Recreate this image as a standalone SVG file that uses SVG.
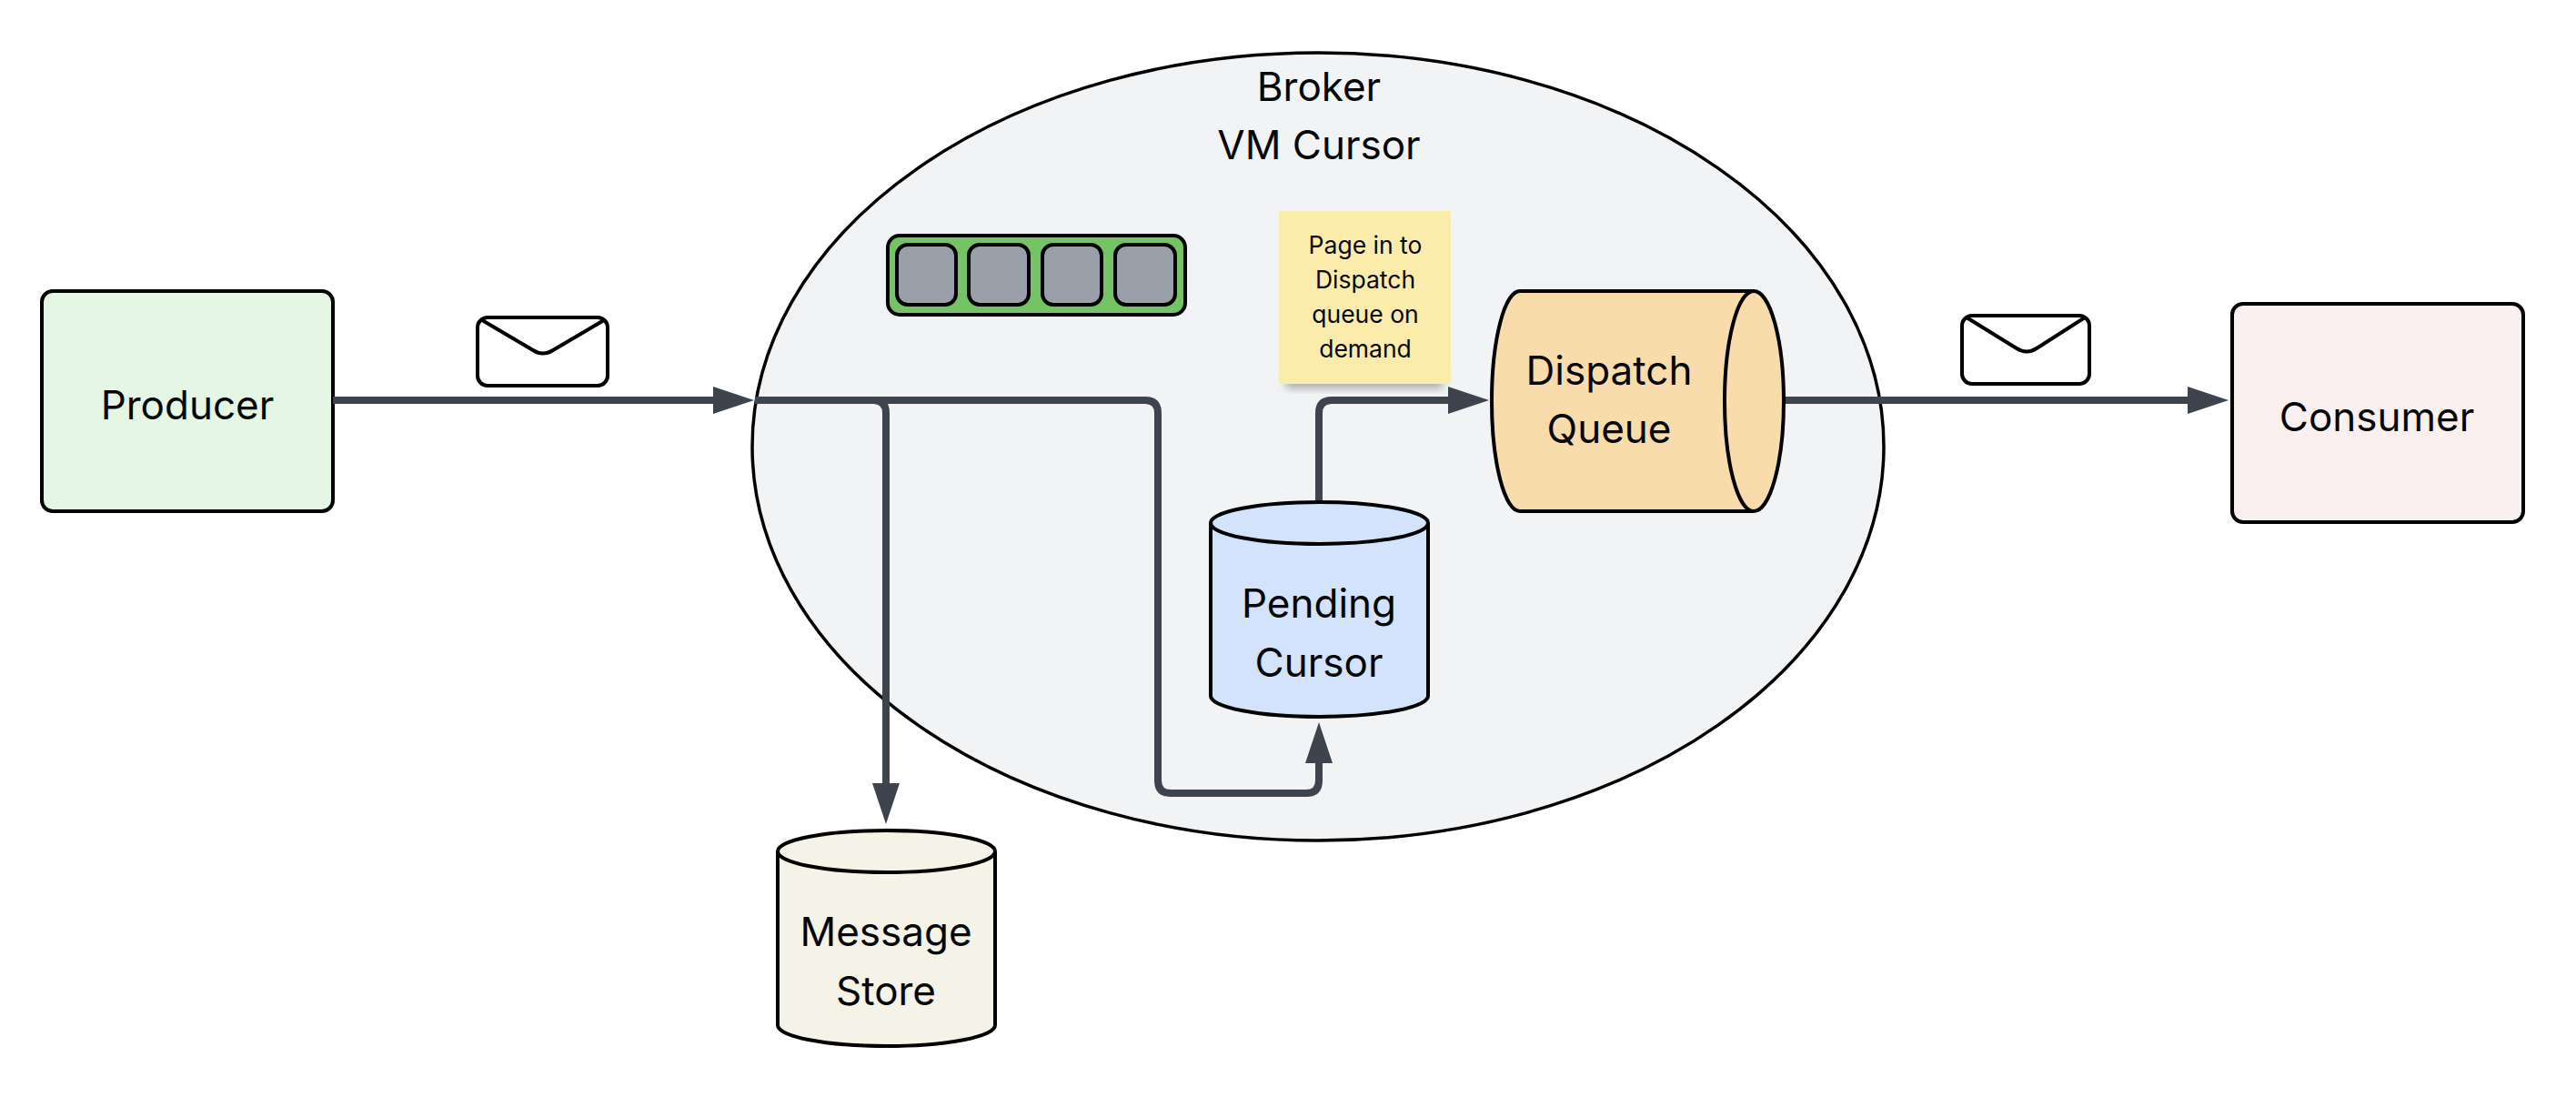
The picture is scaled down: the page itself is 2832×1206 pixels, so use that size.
<svg xmlns="http://www.w3.org/2000/svg" width="2832" height="1206" viewBox="0 0 2832 1206">
<style>
text{font-family:Inter,"Noto Sans",sans-serif;fill:#050607;text-anchor:middle}
.lbl{font-size:44px}
.note{font-size:26.5px}
.s{stroke:#000;stroke-width:4;stroke-linejoin:round}
.c{fill:none;stroke:#3d444d;stroke-width:8;stroke-linejoin:round}
.env{fill:#fff;stroke:#000;stroke-width:4}
.cell{fill:#9aa0a9;stroke:#000;stroke-width:4}
</style>
<defs>
<marker id="ah" markerUnits="userSpaceOnUse" markerWidth="46" markerHeight="30" refX="5" refY="15" orient="auto"><path d="M0 0L45 15L0 30Z" fill="#3d444d"/></marker>
<filter id="blur" x="-20%" y="-20%" width="140%" height="140%"><feGaussianBlur stdDeviation="5"/></filter>
</defs>
<g id="broker"><ellipse cx="1449" cy="491" rx="622" ry="433" fill="#f2f3f5" stroke="#000" stroke-width="3.5"/>
<text class="lbl" x="1450" y="111">Broker</text><text class="lbl" x="1450" y="175">VM Cursor</text></g>
<g id="producer"><rect class="s" x="46" y="320" width="320" height="242" rx="12" fill="#e6f6e4"/><text class="lbl" x="206" y="461">Producer</text></g>
<g id="consumer"><rect class="s" x="2454" y="334" width="320" height="240" rx="12" fill="#fbf0f0"/><text class="lbl" x="2613" y="474">Consumer</text></g>
<g id="queue-icon"><rect x="976" y="259" width="327" height="87" rx="13" fill="#74c365" stroke="#000" stroke-width="4"/>
<rect class="cell" x="986" y="269" width="65" height="66" rx="12"/><rect class="cell" x="1065" y="269" width="66" height="66" rx="12"/><rect class="cell" x="1146" y="269" width="65" height="66" rx="12"/><rect class="cell" x="1226" y="269" width="66" height="66" rx="12"/></g>
<g id="note"><rect x="1414" y="400" width="172" height="27" fill="#555" opacity=".45" filter="url(#blur)"/><rect x="1406" y="232" width="189" height="190" rx="3" fill="#fbecac"/>
<text class="note" x="1501" y="279">Page in to</text><text class="note" x="1501" y="317">Dispatch</text><text class="note" x="1501" y="355">queue on</text><text class="note" x="1501" y="393">demand</text></g>
<g id="connectors">
<path class="c" d="M366 440H789" marker-end="url(#ah)"/>
<path class="c" d="M830 440H960Q974 440 974 454V866" marker-end="url(#ah)"/>
<path class="c" d="M830 440H1259Q1273 440 1273 454V858Q1273 872 1287 872H1436Q1450 872 1450 858V834" marker-end="url(#ah)"/>
<path class="c" d="M1450 552V454Q1450 440 1464 440H1597" marker-end="url(#ah)"/>
<path class="c" d="M1961 440H2410" marker-end="url(#ah)"/>
</g>
<g id="pending-cursor"><path class="s" d="M1331 575A119.500 23 0 0 1 1570 575V765A119.500 23 0 0 1 1331 765Z" fill="#d3e3fb"/><path class="s" d="M1331 575A119.500 23 0 0 0 1570 575" fill="none"/>
<text class="lbl" x="1450" y="679">Pending</text><text class="lbl" x="1450" y="744">Cursor</text></g>
<g id="message-store"><path class="s" d="M855 936A119.500 23 0 0 1 1094 936V1127A119.500 23 0 0 1 855 1127Z" fill="#f5f3e7"/><path class="s" d="M855 936A119.500 23 0 0 0 1094 936" fill="none"/>
<text class="lbl" x="974" y="1040">Message</text><text class="lbl" x="974" y="1105">Store</text></g>
<g id="dispatch-queue"><path class="s" d="M1671 320H1928A33 121 0 0 1 1928 562H1671A31 121 0 0 1 1671 320Z" fill="#f8dcab"/><path class="s" d="M1928 320A32 121 0 0 0 1928 562" fill="none"/>
<text class="lbl" x="1769" y="423">Dispatch</text><text class="lbl" x="1769" y="487">Queue</text></g>
<g id="envelope-1"><rect class="env" x="525" y="349" width="143" height="75" rx="11"/><path d="M530 352L586 385Q597 392 608 385L664 352" fill="none" stroke="#000" stroke-width="4"/></g>
<g id="envelope-2"><rect class="env" x="2157" y="347" width="140" height="75" rx="11"/><path d="M2162 349L2217 383Q2228 390 2239 383L2292 349" fill="none" stroke="#000" stroke-width="4"/></g>
</svg>
